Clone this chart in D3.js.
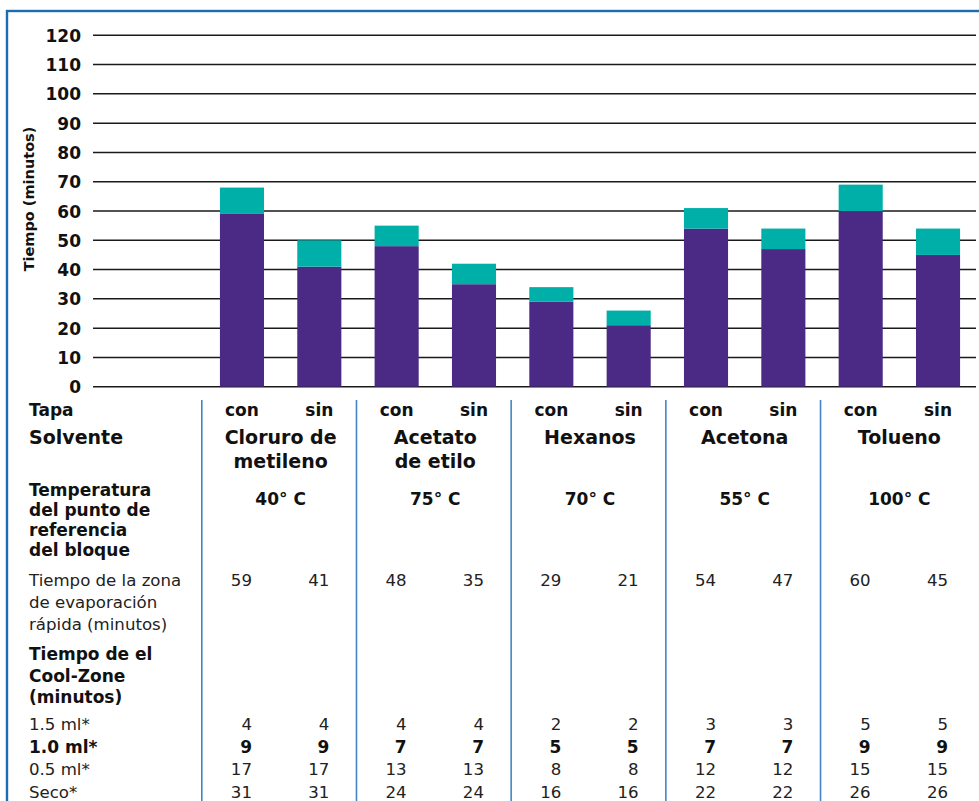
<!DOCTYPE html>
<html><head><meta charset="utf-8">
<script src="https://cdn.jsdelivr.net/npm/d3@7"></script>
<style>
html,body{margin:0;padding:0;background:#fff;}
svg{display:block;}
text{font-family:"DejaVu Sans",sans-serif;}
</style></head>
<body>
<svg id="chart" width="979" height="801"></svg>
<script>
// ---- data ----
const tapa = ["con","sin","con","sin","con","sin","con","sin","con","sin"];
const solventes = [["Cloruro de","metileno"],["Acetato","de etilo"],["Hexanos"],["Acetona"],["Tolueno"]];
const temperaturas = ["40° C","75° C","70° C","55° C","100° C"];
const evaporacion = [59,41,48,35,29,21,54,47,60,45];
const cool15 = [4,4,4,4,2,2,3,3,5,5];
const cool10 = [9,9,7,7,5,5,7,7,9,9];
const cool05 = [17,17,13,13,8,8,12,12,15,15];
const seco = [31,31,24,24,16,16,22,22,26,26];
const yTicks = [0,10,20,30,40,50,60,70,80,90,100,110,120];

const W = 979, H = 801;
const svg = d3.select("#chart");
const purple = "#4a2a85", teal = "#00afa8", blue = "#1c6cb4", divBlue = "#4585c4";

// frame
svg.append("rect").attr("x",7).attr("y",11).attr("width",W+10).attr("height",H+10)
  .attr("fill","none").attr("stroke",blue).attr("stroke-width",2.4);

const y = d3.scaleLinear().domain([0,120]).range([386.7,35.3]);
const x = d3.scaleBand().domain(d3.range(evaporacion.length))
  .range([203.3,976.7]).paddingInner(0.43).paddingOuter(0.215);
const cx = i => x(i) + x.bandwidth()/2;

// gridlines + tick labels
const yAxis = d3.axisLeft(y).tickValues(yTicks).tickSize(0).tickPadding(0);
const gAx = svg.append("g").attr("transform","translate(81,0)").call(yAxis);
gAx.select(".domain").remove();
gAx.selectAll("text").attr("font-size",17).attr("font-weight","bold").attr("fill","#111")
  .attr("font-family","DejaVu Sans, sans-serif").attr("dy","0.36em");
svg.append("g").selectAll("line").data(yTicks).join("line")
  .attr("x1",93).attr("x2",976).attr("y1",d=>y(d)).attr("y2",d=>y(d))
  .attr("stroke","#1a1a1a").attr("stroke-width",1.5);

// y title
svg.append("text").attr("transform","translate(34,199) rotate(-90)")
  .attr("text-anchor","middle").attr("font-size",14.5).attr("font-weight","bold").attr("fill","#111")
  .text("Tiempo (minutos)");

// bars
const bars = svg.append("g");
bars.selectAll("rect.ev").data(evaporacion).join("rect").attr("class","ev")
  .attr("x",(d,i)=>x(i)).attr("width",x.bandwidth())
  .attr("y",d=>y(d)).attr("height",d=>y(0)-y(d)).attr("fill",purple);
bars.selectAll("rect.cz").data(cool10).join("rect").attr("class","cz")
  .attr("x",(d,i)=>x(i)).attr("width",x.bandwidth())
  .attr("y",(d,i)=>y(evaporacion[i]+d)).attr("height",(d,i)=>y(evaporacion[i])-y(evaporacion[i]+d))
  .attr("fill",teal);

// dividers
const step = x.step();
svg.append("g").selectAll("line").data(d3.range(solventes.length)).join("line")
  .attr("x1",g=>x(2*g)-step*0.43/2-1.5).attr("x2",g=>x(2*g)-step*0.43/2-1.5)
  .attr("y1",400).attr("y2",H).attr("stroke",divBlue).attr("stroke-width",1.6);

// table
const LX = 29;
const t = svg.append("g").attr("fill","#111");
function label(txt, yy, size, bold){
  t.append("text").attr("x",LX).attr("y",yy).attr("font-size",size)
   .attr("font-weight",bold?"bold":"normal").attr("fill",bold?"#111":"#222").text(txt);
}
label("Tapa",416,17,true);
t.selectAll("text.tapa").data(tapa).join("text").attr("class","tapa")
  .attr("x",(d,i)=>cx(i)).attr("y",416).attr("text-anchor","middle")
  .attr("font-size",17).attr("font-weight","bold").text(d=>d);

label("Solvente",444,19,true);
const gc = g => (cx(2*g)+cx(2*g+1))/2;
solventes.forEach((lines,g)=>{
  lines.forEach((ln,k)=>{
    t.append("text").attr("x",gc(g)).attr("y",444+k*24).attr("text-anchor","middle")
     .attr("font-size",19).attr("font-weight","bold").text(ln);
  });
});

["Temperatura","del punto de","referencia","del bloque"].forEach((s,k)=>label(s,496+k*20,17,true));
t.selectAll("text.temp").data(temperaturas).join("text").attr("class","temp")
  .attr("x",(d,g)=>gc(g)).attr("y",505).attr("text-anchor","middle")
  .attr("font-size",17).attr("font-weight","bold").text(d=>d);

["Tiempo de la zona","de evaporación","rápida (minutos)"].forEach((s,k)=>label(s,586+k*22,16.6,false));
function valueRow(arr, yy, bold){
  const g = t.append("g");
  g.selectAll("text").data(arr).join("text")
   .attr("x",(d,i)=>cx(i)+10).attr("y",yy).attr("text-anchor","end")
   .attr("font-size",bold?17:16.6).attr("font-weight",bold?"bold":"normal").attr("fill",bold?"#111":"#222")
   .text(d=>d);
}
valueRow(evaporacion,586,false);

["Tiempo de el","Cool-Zone","(minutos)"].forEach((s,k)=>label(s,660+k*21.5,17,true));

label("1.5 ml*",730,16.6,false); valueRow(cool15,730,false);
label("1.0 ml*",753,17,true); valueRow(cool10,753,true);
label("0.5 ml*",775,16.6,false); valueRow(cool05,775,false);
label("Seco*",798,16.6,false); valueRow(seco,798,false);
</script>
</body></html>
